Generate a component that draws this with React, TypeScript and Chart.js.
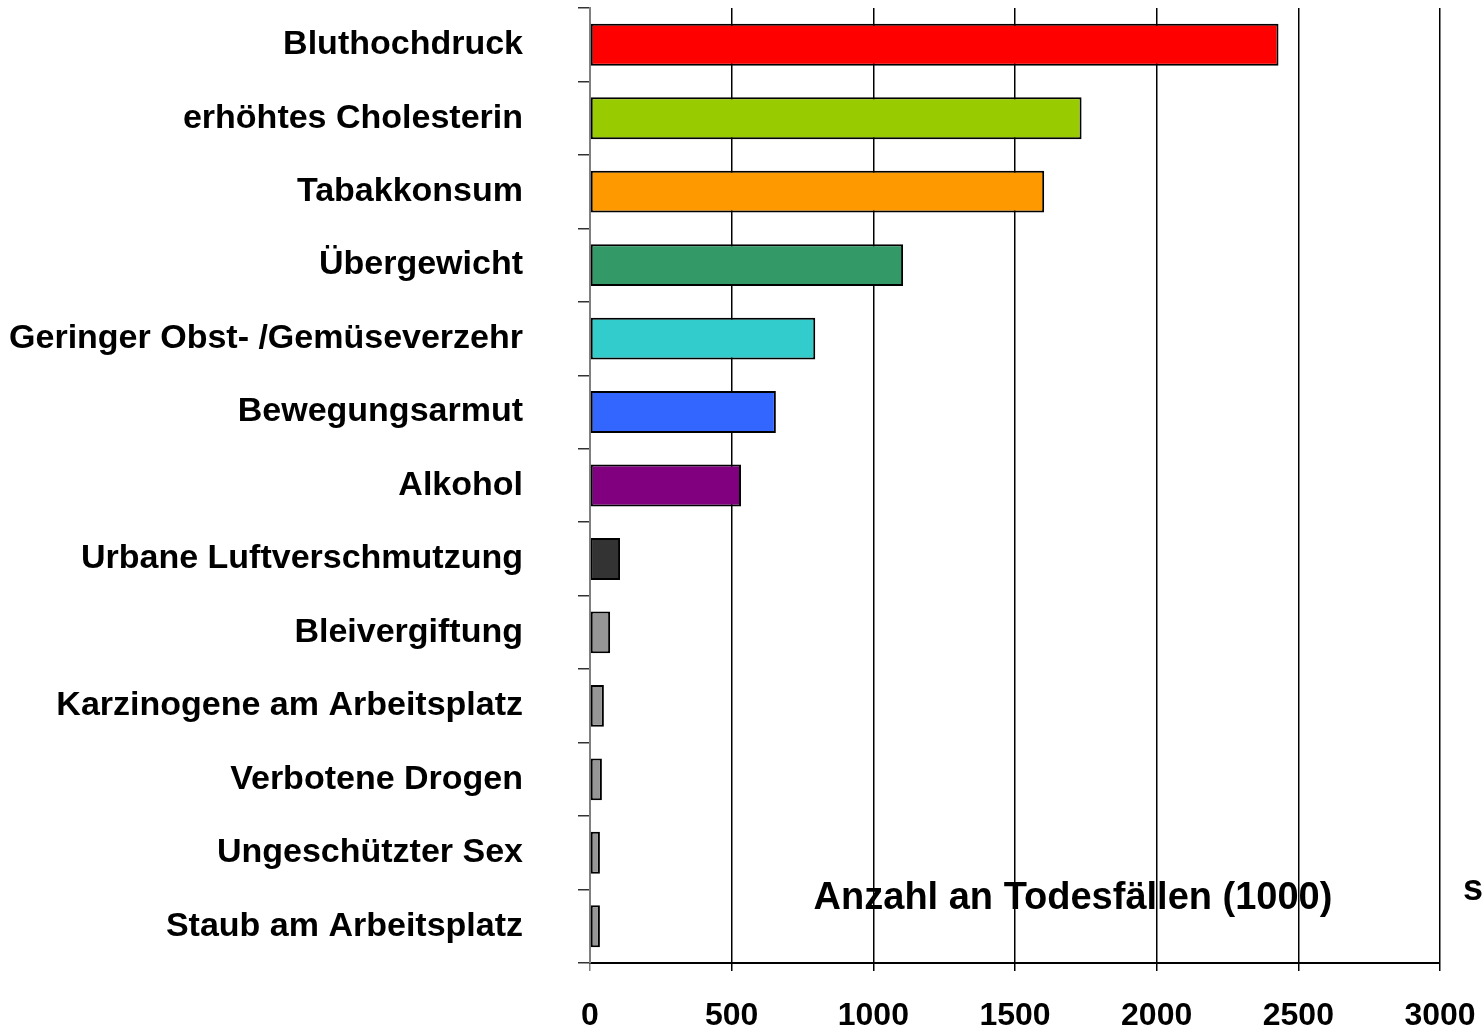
import React, { useEffect, useRef } from "react";
import { Chart, registerables } from "chart.js";

Chart.register(...registerables);

const categories = [
  "Bluthochdruck",
  "erhöhtes Cholesterin",
  "Tabakkonsum",
  "Übergewicht",
  "Geringer Obst- /Gemüseverzehr",
  "Bewegungsarmut",
  "Alkohol",
  "Urbane Luftverschmutzung",
  "Bleivergiftung",
  "Karzinogene am Arbeitsplatz",
  "Verbotene Drogen",
  "Ungeschützter Sex",
  "Staub am Arbeitsplatz",
];

const deaths = [2430, 1735, 1603, 1105, 795, 656, 533, 106, 71, 49, 42, 35, 35];

const barColors = [
  "#FF0000",
  "#99CC00",
  "#FF9900",
  "#339966",
  "#33CCCC",
  "#3366FF",
  "#800080",
  "#333333",
  "#969696",
  "#969696",
  "#969696",
  "#969696",
  "#969696",
];

const xMin = 0;
const xMax = 3000;
const xStep = 500;

const axisTitle = "Anzahl an Todesfällen (1000)";
const cutText = "s";

const FONT = '"Liberation Sans", Arial, sans-serif';

const textPlugin = {
  id: "freeText",
  afterDraw(chart: any) {
    const ctx = chart.ctx;
    ctx.save();
    ctx.fillStyle = "#000";
    ctx.font = `bold 38px ${FONT}`;
    ctx.textAlign = "center";
    ctx.textBaseline = "middle";
    ctx.fillText(axisTitle, 1073, 899);
    ctx.font = `bold 36px ${FONT}`;
    ctx.textAlign = "left";
    ctx.fillText(cutText, 1463, 890);
    ctx.restore();
  },
};

export default function App() {
  const ref = useRef<HTMLCanvasElement | null>(null);

  useEffect(() => {
    if (!ref.current) return;
    const chart = new Chart(ref.current, {
      type: "bar",
      data: {
        labels: categories,
        datasets: [
          {
            data: deaths,
            backgroundColor: barColors,
            borderColor: "#000",
            borderWidth: 2,
            borderSkipped: false,
            categoryPercentage: 1,
            barPercentage: 0.57,
          },
        ],
      },
      options: {
        indexAxis: "y",
        responsive: false,
        animation: false,
        devicePixelRatio: 1,
        layout: { padding: { left: 0, right: 43, top: 8, bottom: 0 } },
        plugins: {
          legend: { display: false },
          tooltip: { enabled: false },
          title: { display: false },
        },
        scales: {
          x: {
            type: "linear",
            min: xMin,
            max: xMax,
            ticks: {
              stepSize: xStep,
              color: "#000",
              padding: 26,
              maxRotation: 0,
              font: { family: FONT, size: 32, weight: "bold" },
              callback: (v: any) => String(v),
            },
            grid: {
              color: (c: any) => (c.tick && c.tick.value === 0 ? "#808080" : "#000"),
              lineWidth: 1.5,
              tickLength: 8,
              drawTicks: true,
            },
            border: { color: "#000", width: 2 },
            afterFit: (s: any) => {
              s.height = 65;
              s.paddingLeft = 0;
              s.paddingRight = 0;
              s.paddingTop = 0;
              s.paddingBottom = 0;
            },
          },
          y: {
            ticks: {
              color: "#000",
              padding: 55,
              font: { family: FONT, size: 34, weight: "bold" },
              autoSkip: false,
            },
            grid: {
              drawOnChartArea: false,
              drawTicks: true,
              tickLength: 12,
              color: "#333",
              lineWidth: 1.5,
            },
            border: { color: "#808080", width: 2 },
            afterFit: (s: any) => {
              s.width = 590;
              s.paddingLeft = 0;
              s.paddingRight = 0;
              s.paddingTop = 0;
              s.paddingBottom = 0;
            },
          },
        },
      },
      plugins: [textPlugin],
    });
    return () => chart.destroy();
  }, []);

  return (
    <div style={{ position: "absolute", left: 0, top: 0, width: 1483, height: 1028, background: "#fff" }}>
      <canvas ref={ref} width={1483} height={1028} style={{ display: "block" }} />
    </div>
  );
}
